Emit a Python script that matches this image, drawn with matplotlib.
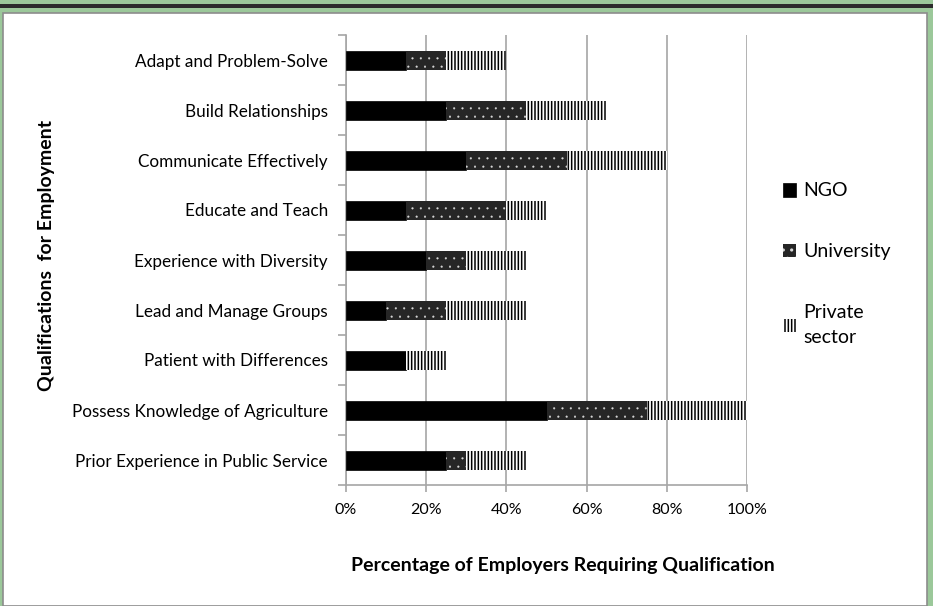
import matplotlib as mpl
import matplotlib.pyplot as plt
from matplotlib.patches import Rectangle

categories = [
    "Adapt and Problem-Solve",
    "Build Relationships",
    "Communicate Effectively",
    "Educate and Teach",
    "Experience with Diversity",
    "Lead and Manage Groups",
    "Patient with Differences",
    "Possess Knowledge of Agriculture",
    "Prior Experience in Public Service",
]
ngo = [15, 25, 30, 15, 20, 10, 15, 50, 25]
university = [10, 20, 25, 25, 10, 15, 0, 25, 5]
private = [15, 20, 25, 10, 15, 20, 10, 25, 15]
series_labels = ["NGO", "University", "Private\nsector"]
xticks = [0, 20, 40, 60, 80, 100]

mpl.rcParams["font.family"] = ["Lato", "DejaVu Sans"]
mpl.rcParams["hatch.linewidth"] = 1.1

green = "#9bc89a"
grid_grey = "#a6a6a6"

fig = plt.figure(figsize=(9.33, 6.06), dpi=100, facecolor=green)
W, H = 933, 606

# white panel and dark band at the top
fig.patches.append(Rectangle((3 / W, 0), 924 / W, 1 - 13 / H, transform=fig.transFigure,
                             facecolor="white", edgecolor="#8c8c8c", linewidth=1.2, zorder=-2))
fig.patches.append(Rectangle((0, 1 - 7.5 / H), 1, 3 / H, transform=fig.transFigure,
                             facecolor="#2b2b2b", edgecolor="none", zorder=-2))

ax = fig.add_axes([346 / W, 1 - 485 / H, 401 / W, 450 / H])
ax.set_facecolor("none")

y = list(range(len(categories)))
h = 0.38
left_u = [a for a in ngo]
left_p = [a + b for a, b in zip(ngo, university)]

b1 = ax.barh(y, ngo, height=h, color="black", edgecolor="black", linewidth=0.5, zorder=3)
with mpl.rc_context({"hatch.linewidth": 0.3}):
    b2 = ax.barh(y, university, height=h, left=left_u, color="#262626", edgecolor="#d8d8d8",
                 linewidth=0, hatch="..", zorder=3)
b3 = ax.barh(y, private, height=h, left=left_p, color="white", edgecolor="black",
             linewidth=0, hatch="|||||", zorder=3)
for p in b2:
    if hasattr(p, "set_hatch_linewidth"):
        p.set_hatch_linewidth(0.3)

ax.set_xlim(0, 100)
ax.set_ylim(len(categories) - 0.5, -0.5)
ax.set_xticks(xticks)
ax.set_xticklabels([f"{t}%" for t in xticks], fontsize=11.5)
ax.set_yticks(y)
ax.set_yticklabels(categories, fontsize=12.3)
ax.set_yticks([i - 0.5 for i in range(len(categories) + 1)], minor=True)
ax.tick_params(axis="y", which="major", length=0, pad=13)
ax.tick_params(axis="y", which="minor", length=6, color=grid_grey, width=1.2)
ax.tick_params(axis="x", length=5, color=grid_grey, width=1.2, pad=8)

ax.grid(axis="x", color=grid_grey, linewidth=1.2, zorder=1)
ax.set_axisbelow(True)
for s in ["top", "right"]:
    ax.spines[s].set_visible(False)
for s in ["left", "bottom"]:
    ax.spines[s].set_color(grid_grey)
    ax.spines[s].set_linewidth(1.2)

fig.text(47 / W, 1 - 255 / H, "Qualifications  for Employment", rotation=90,
         ha="center", va="center", fontsize=14, fontweight="bold")
fig.text(563 / W, 1 - 566 / H, "Percentage of Employers Requiring Qualification",
         ha="center", va="center", fontsize=14, fontweight="bold")

leg = fig.legend([b1, b2, b3], series_labels, loc="upper left",
                 bbox_to_anchor=(765 / W, 1 - 165 / H), frameon=False, fontsize=14,
                 handlelength=0.7, handleheight=0.7, handletextpad=0.35, labelspacing=2.25)
for t in leg.get_texts():
    t.set_linespacing(1.6)

fig.savefig("out.png", dpi=100, facecolor=green)
